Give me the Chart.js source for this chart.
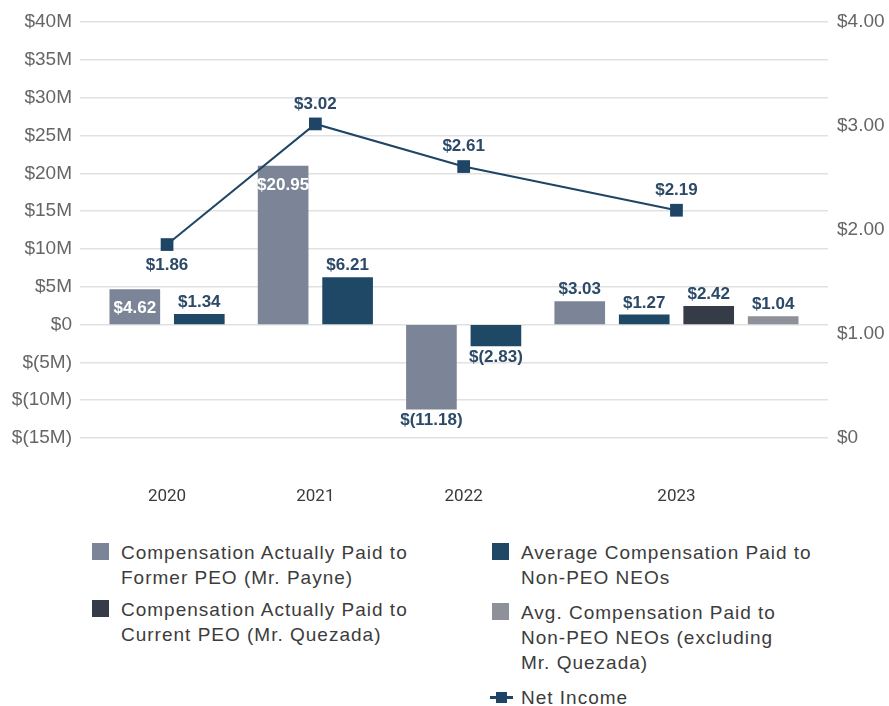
<!DOCTYPE html>
<html>
<head>
<meta charset="utf-8">
<title>Pay vs Performance</title>
<script src="https://cdn.jsdelivr.net/npm/chart.js@4.4.1/dist/chart.umd.min.js"></script>
<style>
  body { margin: 0; background: #fff; width: 889px; height: 706px; position: relative; overflow: hidden;
         font-family: "Liberation Sans", Arial, sans-serif; }
  #wrap { position: absolute; left: 0; top: 0; width: 889px; height: 520px; }
  .item { position: absolute; color: #3c3c3c; font-size: 19px; letter-spacing: 1px; line-height: 25px; white-space: nowrap; }
  .sw { position: absolute; left: -29px; top: 3px; width: 17px; height: 17px; }
  .ni { position: absolute; left: -31px; top: 11px; width: 23px; height: 3px; background: #1e4565; }
  .ni::after { content: ""; position: absolute; left: 6px; top: -4px; width: 11px; height: 11px; background: #1e4565; }
</style>
</head>
<body>
<div id="wrap"><canvas id="payChart"></canvas></div>

<div class="item" style="left:121px; top:540px;"><span class="sw" style="background:#7c8597"></span>Compensation Actually Paid to<br>Former PEO (Mr. Payne)</div>
<div class="item" style="left:121px; top:597px;"><span class="sw" style="background:#363b48"></span>Compensation Actually Paid to<br>Current PEO (Mr. Quezada)</div>
<div class="item" style="left:521px; top:540px;"><span class="sw" style="background:#1f4766"></span>Average Compensation Paid to<br>Non-PEO NEOs</div>
<div class="item" style="left:521px; top:600px;"><span class="sw" style="background:#8e9199"></span>Avg. Compensation Paid to<br>Non-PEO NEOs (excluding<br>Mr. Quezada)</div>
<div class="item" style="left:521px; top:685px;"><span class="ni"></span>Net Income</div>

<script>
// values ($M for compensation, $ for net income)
const years = ['2020', '2021', '2022', '2023'];
const formerPeo = [4.62, 20.95, -11.18, 3.03];
const avgNeo = [1.34, 6.21, -2.83, 1.27];
const currentPeo = [null, null, null, 2.42];
const avgNeoExcl = [null, null, null, 1.04];
const netIncome = [1.86, 3.02, 2.61, 2.19];

const leftMin = -15, leftMax = 40, leftStep = 5;
const rightMin = 0, rightMax = 4, rightStep = 1;

// bar slots: one slot per bar, extra gap between years
const barSeries = [formerPeo, avgNeo, currentPeo, avgNeoExcl];
const groupGap = 0.3;
const barX = barSeries.map(() => []);
const yearCenter = [];
let slot = 0;
years.forEach((yr, i) => {
    const xs = [];
    barSeries.forEach((s, k) => {
        if (s[i] === null) { barX[k].push(null); return; }
        const x = slot + i * groupGap;
        barX[k].push(x);
        xs.push(x);
        slot++;
    });
    yearCenter.push((xs[0] + xs[xs.length - 1]) / 2);
});

function points(k) {
    return barSeries[k]
        .map((v, i) => v === null ? null : { x: barX[k][i], y: v })
        .filter(p => p !== null);
}

function money(v) {
    return v < 0 ? '$(' + Math.abs(v).toFixed(2) + ')' : '$' + v.toFixed(2);
}

const valueLabels = {
    id: 'valueLabels',
    afterDatasetsDraw(chart) {
        const ctx = chart.ctx;
        ctx.save();
        ctx.font = 'bold 17px "Liberation Sans", Arial, sans-serif';
        ctx.textAlign = 'center';
        ctx.textBaseline = 'middle';
        chart.data.datasets.forEach((ds, di) => {
            const meta = chart.getDatasetMeta(di);
            meta.data.forEach((el, i) => {
                const v = ds.data[i].y;
                let y = el.y - 12;
                let color = '#2c4a68';
                if (ds.type === 'line') {
                    // first point sits under the rising line, label goes below
                    y = i === 0 ? el.y + 21 : el.y - 20;
                } else if (v < 0) {
                    y = el.y + 11;
                } else if (ds.labelInside && el.base - el.y > 30) {
                    y = el.y + 19;
                    color = '#ffffff';
                }
                ctx.fillStyle = color;
                ctx.fillText(money(v), el.x, y);
            });
        });
        ctx.restore();
    }
};

const tickFont = { family: '"Liberation Sans", Arial, sans-serif', size: 19 };
const barCommon = { type: 'bar', yAxisID: 'y', barThickness: 50, maxBarThickness: 50, order: 1 };

new Chart(document.getElementById('payChart'), {
    data: {
        datasets: [
            {
                type: 'line', label: 'Net Income', yAxisID: 'y2', order: 0,
                data: yearCenter.map((x, i) => ({ x: x, y: netIncome[i] })),
                borderColor: '#1e4565', borderWidth: 2, tension: 0,
                pointStyle: 'rect', pointRadius: 9, pointBorderWidth: 0,
                pointBackgroundColor: '#1e4565'
            },
            Object.assign({ label: 'Compensation Actually Paid to Former PEO (Mr. Payne)', data: points(0),
                backgroundColor: '#7c8597', labelInside: true }, barCommon),
            Object.assign({ label: 'Average Compensation Paid to Non-PEO NEOs', data: points(1),
                backgroundColor: '#1f4766' }, barCommon),
            Object.assign({ label: 'Compensation Actually Paid to Current PEO (Mr. Quezada)', data: points(2),
                backgroundColor: '#363b48' }, barCommon),
            Object.assign({ label: 'Avg. Compensation Paid to Non-PEO NEOs (excluding Mr. Quezada)', data: points(3),
                backgroundColor: '#8e9199' }, barCommon)
        ]
    },
    options: {
        responsive: true,
        maintainAspectRatio: false,
        animation: false,
        layout: { padding: { top: 22, left: 0, right: 0, bottom: 0 } },
        plugins: { legend: { display: false }, tooltip: { enabled: false } },
        datasets: { bar: { grouped: false } },
        scales: {
            x: {
                type: 'linear', min: -0.85, max: 10.75, offset: false,
                grid: { display: false, drawTicks: false },
                border: { display: false },
                afterBuildTicks: s => { s.ticks = yearCenter.map(v => ({ value: v })); },
                afterFit: s => { s.height = 82; },
                ticks: {
                    padding: 49, autoSkip: false, maxRotation: 0, color: '#3a3a3a',
                    font: { family: 'Roboto', size: 17, weight: 'normal' },
                    callback: (v, i) => years[i]
                }
            },
            y: {
                position: 'left', min: leftMin, max: leftMax,
                grid: { color: '#e1e1e1', lineWidth: 1.5, drawTicks: false },
                border: { display: false },
                afterFit: s => { s.width = 80; },
                ticks: {
                    stepSize: leftStep, padding: 8, color: '#666', font: tickFont,
                    callback: v => v === 0 ? '$0' : (v < 0 ? '$(' + Math.abs(v) + 'M)' : '$' + v + 'M')
                }
            },
            y2: {
                position: 'right', min: rightMin, max: rightMax,
                grid: { display: false, drawTicks: false },
                border: { display: false },
                afterFit: s => { s.width = 61; },
                ticks: {
                    stepSize: rightStep, padding: 9, color: '#666', font: tickFont,
                    callback: v => v === 0 ? '$0' : '$' + v.toFixed(2)
                }
            }
        }
    },
    plugins: [valueLabels]
});
</script>
</body>
</html>
